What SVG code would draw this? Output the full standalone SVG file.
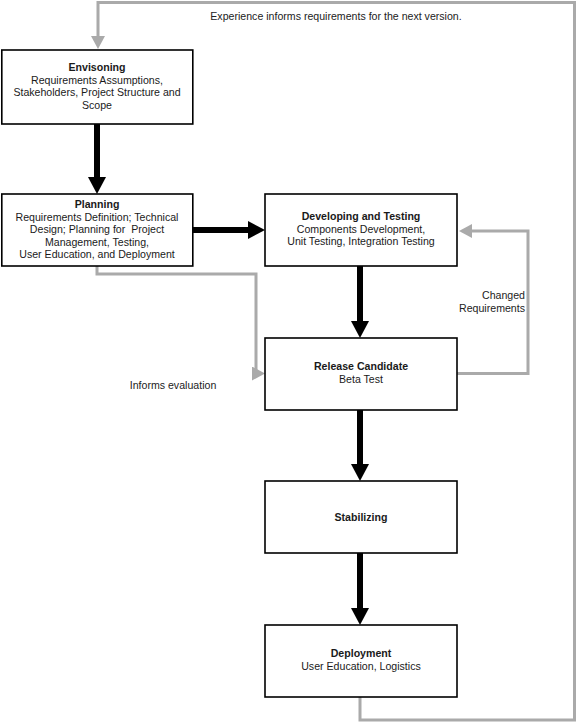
<svg xmlns="http://www.w3.org/2000/svg" width="579" height="724" viewBox="0 0 579 724">
<style>
.box{fill:#fff;stroke:#000;stroke-width:1.6}
text{font-family:"Liberation Sans",Arial,sans-serif;font-size:10.6px;fill:#1a1a1a;text-anchor:middle}
.t{font-weight:bold}
.lbl{fill:#222}
.blk{fill:none;stroke:#000;stroke-width:6}
.gry{fill:none;stroke:#aaa;stroke-width:3}
</style>
<defs>
<marker id="bh" markerUnits="userSpaceOnUse" markerWidth="17" markerHeight="18" refX="1" refY="9" orient="auto">
<path d="M0,0 L17,9 L0,18 z" fill="#000"/>
</marker>
<marker id="gh" markerUnits="userSpaceOnUse" markerWidth="14" markerHeight="14" refX="1" refY="7" orient="auto">
<path d="M0,0 L13,7 L0,14 z" fill="#aaa"/>
</marker>
</defs>
<rect width="579" height="724" fill="#fff"/>
<g id="connectors">
<path class="blk" d="M97,124 V178" marker-end="url(#bh)"/>
<path class="blk" d="M193,230 H249" marker-end="url(#bh)"/>
<path class="blk" d="M360,266 V322" marker-end="url(#bh)"/>
<path class="blk" d="M360,410 V465" marker-end="url(#bh)"/>
<path class="blk" d="M360,553 V609" marker-end="url(#bh)"/>
<path class="gry" d="M360,697 V720 H574.5 V2.5 H98 V37" marker-end="url(#gh)"/>
<path class="gry" d="M97,266 V274 H256 V373.5 M252,373.5 H253" marker-end="url(#gh)"/>
<path class="gry" d="M457,373.5 H528 V231 H471" marker-end="url(#gh)"/>
</g>
<g id="labels">
<text class="lbl" x="336" y="19.5">Experience informs requirements for the next version.</text>
<text class="lbl" x="173" y="389">Informs evaluation</text>
<text class="lbl" x="525" y="299" style="text-anchor:end">Changed</text>
<text class="lbl" x="525" y="311.5" style="text-anchor:end">Requirements</text>
</g>
<g id="envisoning">
<rect class="box" x="1.8" y="50" width="191" height="74"/>
<text class="t" x="97" y="70.5">Envisoning</text>
<text x="97" y="83.5">Requirements Assumptions,</text>
<text x="97" y="96">Stakeholders, Project Structure and</text>
<text x="97" y="108.5">Scope</text>
</g>
<g id="planning">
<rect class="box" x="1.8" y="194" width="191" height="72"/>
<text class="t" x="97" y="208">Planning</text>
<text x="97" y="220.5">Requirements Definition; Technical</text>
<text x="97" y="233">Design; Planning for&#160; Project</text>
<text x="97" y="245.5">Management, Testing,</text>
<text x="97" y="258">User Education, and Deployment</text>
</g>
<g id="developing">
<rect class="box" x="265" y="194" width="192" height="72"/>
<text class="t" x="361" y="220">Developing and Testing</text>
<text x="361" y="232.5">Components Development,</text>
<text x="361" y="245">Unit Testing, Integration Testing</text>
</g>
<g id="release">
<rect class="box" x="265" y="338" width="192" height="72"/>
<text class="t" x="361" y="370">Release Candidate</text>
<text x="361" y="383">Beta Test</text>
</g>
<g id="stabilizing">
<rect class="box" x="265" y="481" width="192" height="72"/>
<text class="t" x="361" y="521">Stabilizing</text>
</g>
<g id="deployment">
<rect class="box" x="265" y="625" width="192" height="72"/>
<text class="t" x="361" y="657">Deployment</text>
<text x="361" y="670">User Education, Logistics</text>
</g>
</svg>
